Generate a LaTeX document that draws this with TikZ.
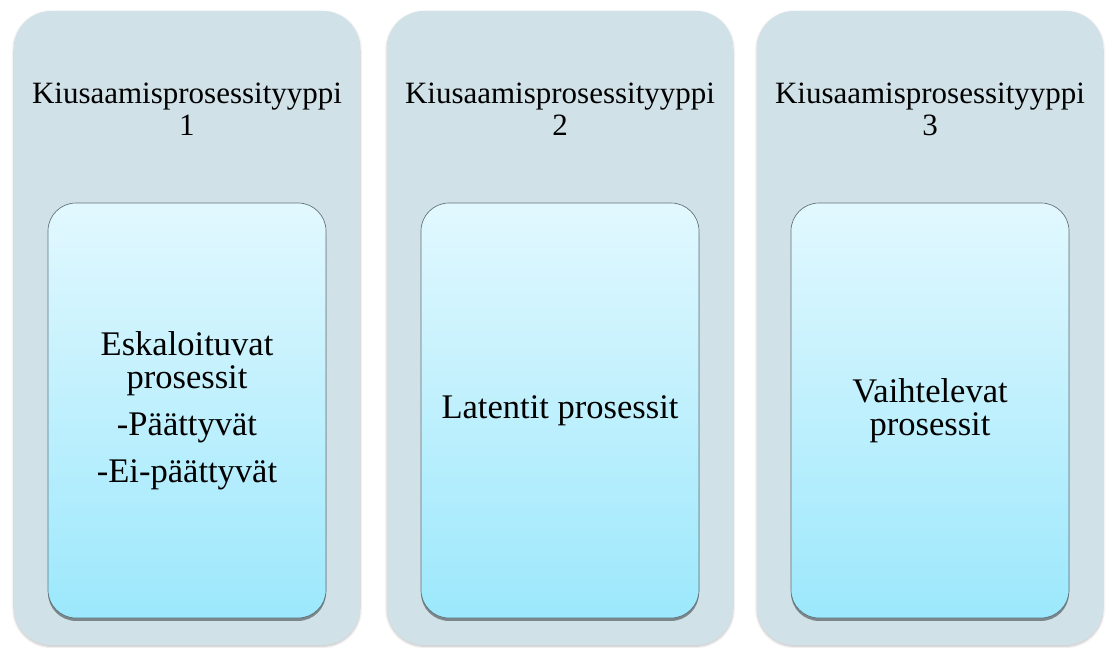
\documentclass[tikz,border=0pt]{standalone}
\usepackage{fontspec}
\setmainfont{Liberation Serif}
\usepackage{tikz}
\usetikzlibrary{shadows,shadows.blur}
\definecolor{panelgrey}{RGB}{208,225,232}
\definecolor{celltop}{RGB}{226,248,254}
\definecolor{cellbot}{RGB}{156,232,252}
\definecolor{celledge}{RGB}{96,112,120}
\tikzset{
  outerbox/.style={fill=panelgrey,rounded corners=28pt,minimum width=259.5pt,
    minimum height=475.5pt,inner sep=0,
    blur shadow={shadow xshift=0pt,shadow yshift=-1pt,shadow blur steps=6,shadow opacity=25}},
  headtxt/.style={align=center,font=\fontsize{23.25}{24}\selectfont,inner sep=0},
  innerbox/.style={draw=celledge,line width=0.5pt,top color=celltop,bottom color=cellbot,
    rounded corners=21pt,minimum width=208.5pt,minimum height=311.25pt,inner sep=0,
    align=center,font=\fontsize{25.9}{24.75}\selectfont,
    drop shadow={shadow xshift=0pt,shadow yshift=-2.2pt,opacity=0.4,fill=black}},
}
\newcommand{\typecol}[4]{% x centre, name, header, body
  \node[outerbox] (#2) at (#1,328) {};
  \node[headtxt] (#2h) at (#1,109) {#3};
  \node[innerbox] (#2i) at (#1,410.5) {#4};}

\begin{document}
\begin{tikzpicture}[x=0.75pt,y=-0.75pt]
  \useasboundingbox (0,0) rectangle (1106,648);
  % three process types
  \typecol{187}{typeone}{Kiusaamisprosessityyppi\\1}
    {Eskaloituvat\\prosessit\\[10.5pt]-Päättyvät\\[10.5pt]-Ei-päättyvät}
  \typecol{560}{typetwo}{Kiusaamisprosessityyppi\\2}{Latentit prosessit}
  \typecol{930}{typethree}{Kiusaamisprosessityyppi\\3}{Vaihtelevat\\prosessit}
\end{tikzpicture}
\end{document}
